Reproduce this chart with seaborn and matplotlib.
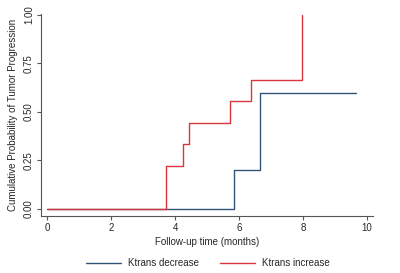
import pandas as pd
import seaborn as sns
import matplotlib.pyplot as plt

# step points
dec_time = [0, 5.85, 6.65, 9.66]
dec_prob = [0, 0.20, 0.60, 0.60]
inc_time = [0, 3.72, 4.25, 4.44, 5.72, 6.37, 7.97]
inc_prob = [0, 0.222, 0.333, 0.444, 0.556, 0.667, 1.0]
groups = ["Ktrans decrease", "Ktrans increase"]
x_ticks = [0, 2, 4, 6, 8, 10]
y_ticks = [0, 0.25, 0.5, 0.75, 1.0]
y_labels = ["0.00", "0.25", "0.50", "0.75", "1.00"]

df = pd.concat([
    pd.DataFrame({"time": dec_time, "prob": dec_prob, "group": groups[0]}),
    pd.DataFrame({"time": inc_time, "prob": inc_prob, "group": groups[1]}),
])

sns.set_style("white")
plt.rcParams["font.family"] = ["Liberation Sans", "DejaVu Sans"]

my_pal = {groups[0]: "#34557a", groups[1]: "#d8363c"}

f = plt.figure(figsize=(4, 2.73), dpi=100)
ax = f.add_axes([0.1025, 0.2088, 0.83, 0.74])

sns.lineplot(data=df, x="time", y="prob", hue="group", hue_order=groups,
             palette=my_pal, drawstyle="steps-post", estimator=None,
             linewidth=1.0, ax=ax, legend=False)

ax.set_xlim(-0.19, 10.19)
ax.set_ylim(-0.036, 1.005)
ax.set_xticks(x_ticks)
ax.set_yticks(y_ticks)
ax.set_yticklabels(y_labels, rotation=90, va="center")
ax.tick_params(axis="both", labelsize=7, length=3, width=0.8,
               color="#555555", pad=2, left=True, bottom=True)

ax.set_xlabel("Follow-up time (months)", fontsize=7, labelpad=3)
ax.set_ylabel("Cumulative Probability of Tumor Progression", fontsize=7, labelpad=4)

ax.spines["top"].set_visible(False)
ax.spines["right"].set_visible(False)
for s in ["left", "bottom"]:
    ax.spines[s].set_color("#555555")
    ax.spines[s].set_linewidth(0.8)

handles = [plt.Line2D([], [], color=my_pal[g], lw=1.0) for g in groups]
f.legend(handles=handles, labels=groups, loc="center", bbox_to_anchor=(0.52, 0.035),
         ncol=2, frameon=False, fontsize=7, handlelength=3.6, columnspacing=2.2,
         handletextpad=0.7)

f.savefig("out.png", dpi=100)
